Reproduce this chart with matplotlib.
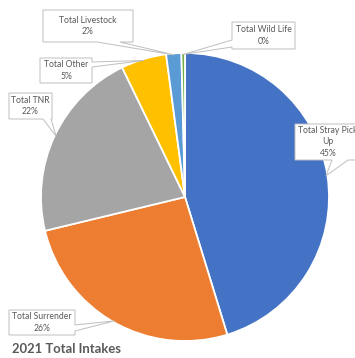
import matplotlib.pyplot as plt
import numpy as np
from matplotlib.patches import Polygon

# 2021 intake shares (percent of total intakes)
categories = ["Total Stray Pick\nUp", "Total Surrender", "Total TNR",
              "Total Other", "Total Livestock", "Total Wild Life"]
shares = [45.3, 26.0, 21.6, 5.1, 1.7, 0.4]
colors = ["#4472C4", "#ED7D31", "#A5A5A5", "#FFC000", "#5B9BD5", "#70AD47"]

# callout boxes in pixel coords: (x0, y0, x1, y1), edge carrying the pointer, pointer base span
boxes = [(295, 124, 362, 160), (9, 310, 75, 335), (9, 93, 52, 119),
         (40, 58, 92, 83), (43, 10, 133, 42), (232, 22, 295, 49)]
pointer_edge = ["bottom", "right", "bottom", "right", "bottom", "left"]
pointer_base = [(332, 348), (325, 331), (43, 51), (62, 67), (97, 120), (40, 47)]

CX, CY, R = 185, 197, 144
GREY = "#595959"
EDGE = "#BFBFBF"


def callout(box, edge, base, tip):
    x0, y0, x1, y1 = box
    a, b = base
    pts = [(x0, y0)]
    if edge == "top":
        pts += [(a, y0), tip, (b, y0)]
    pts.append((x1, y0))
    if edge == "right":
        pts += [(x1, a), tip, (x1, b)]
    pts.append((x1, y1))
    if edge == "bottom":
        pts += [(b, y1), tip, (a, y1)]
    pts.append((x0, y1))
    if edge == "left":
        pts += [(x0, b), tip, (x0, a)]
    return Polygon(pts, closed=True, fc="white", ec=EDGE, lw=0.7, zorder=3)


def main() -> None:
    fig = plt.figure(figsize=(3.55, 3.58), dpi=100)
    ax = fig.add_axes([0, 0, 1, 1])

    # y axis is flipped below, so start at -90 going "counterclockwise" = clockwise from 12 o'clock
    ax.pie(shares, colors=colors, center=(CX, CY), radius=R, startangle=-90,
           counterclock=True, frame=True,
           wedgeprops=dict(edgecolor="white", linewidth=1.3))
    ax.set_xlim(0, 355)
    ax.set_ylim(358, 0)
    ax.set_aspect("equal")
    ax.axis("off")

    total = sum(shares)
    cum = np.cumsum([0] + shares)
    for i, name in enumerate(categories):
        mid = np.radians(-90 + 360 * (cum[i] + shares[i] / 2) / total)
        tip = (CX + 0.99 * R * np.cos(mid), CY + 0.99 * R * np.sin(mid))
        ax.add_patch(callout(boxes[i], pointer_edge[i], pointer_base[i], tip))
        pct = round(100 * shares[i] / total)
        x0, y0, x1, y1 = boxes[i]
        tx = (x0 + x1) / 2
        if i == 0:
            tx = 328
        ax.text(tx, (y0 + y1) / 2, f"{name}\n{pct}%", ha="center", va="center",
                fontsize=6.2, family="Lato", color=GREY, linespacing=1.3,
                zorder=4)

    ax.text(12, 349, "2021 Total Intakes", ha="left", va="center",
            fontsize=9.4, fontweight="bold", family="Lato", color=GREY)

    fig.savefig("out.png", dpi=100)


if __name__ == "__main__":
    main()
